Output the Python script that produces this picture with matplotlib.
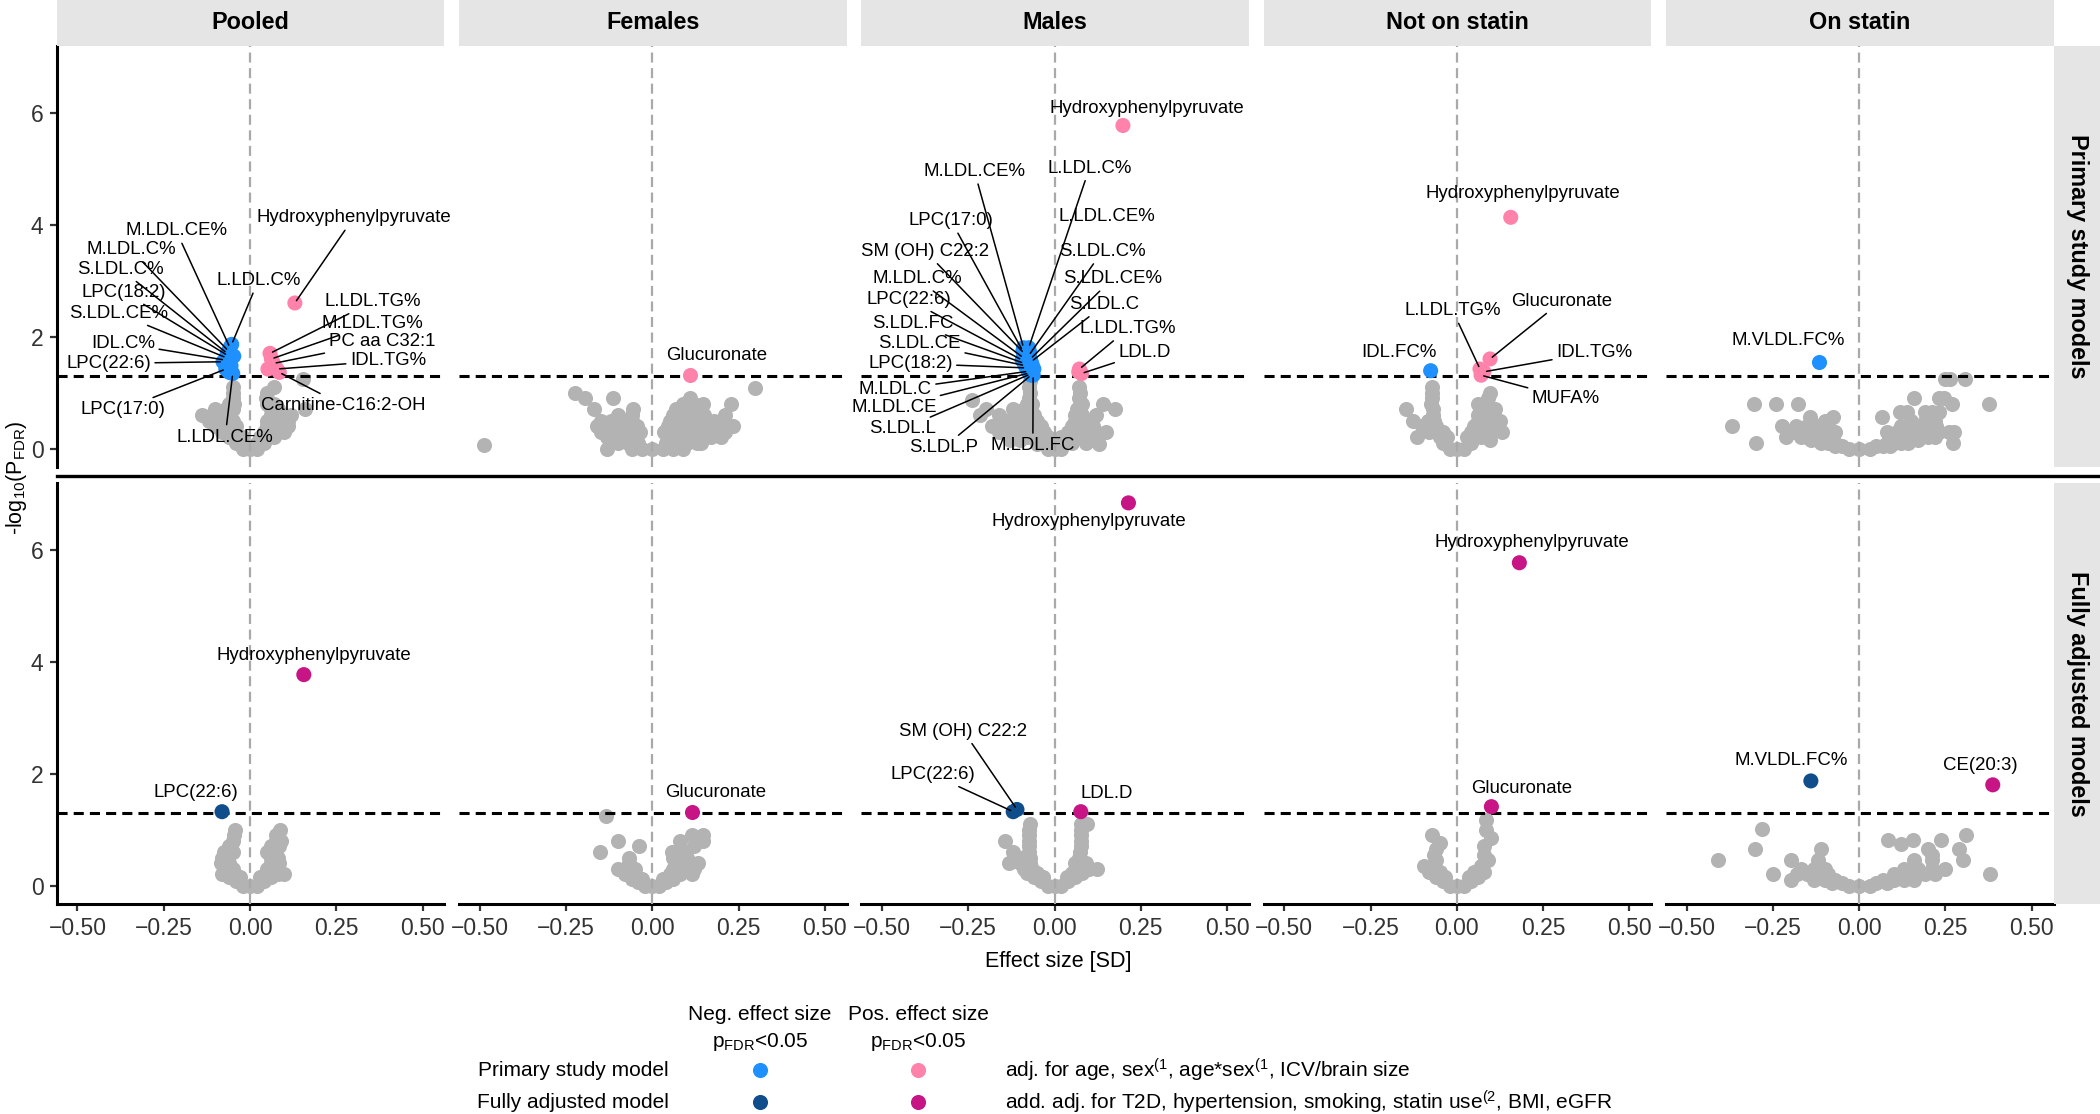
import matplotlib
matplotlib.use("Agg")
import matplotlib.pyplot as plt
from matplotlib.lines import Line2D
import numpy as np

plt.rcParams['font.family'] = ['Liberation Sans', 'DejaVu Sans']
plt.rcParams['mathtext.fontset'] = 'custom'
plt.rcParams['mathtext.rm'] = 'Liberation Sans'
plt.rcParams['mathtext.it'] = 'Liberation Sans:italic'
plt.rcParams['mathtext.bf'] = 'Liberation Sans:bold'
plt.rcParams['mathtext.default'] = 'regular'

## facets
groups = ["Pooled", "Females", "Males", "Not on statin", "On statin"]
models = ["Primary study models", "Fully adjusted models"]
x_ticks = [-0.5, -0.25, 0.0, 0.25, 0.5]
x_ticklabels = ["\u22120.50", "\u22120.25", "0.00", "0.25", "0.50"]
y_ticks = [0, 2, 4, 6]
p_threshold = -np.log10(0.05)

## non-significant metabolites:
## (-log10 pFDR, [effect sizes at that height]) plus the loose points
bg_pooled_primary = [
    (0.0, [-0.02, 0.0, 0.02]), (0.1, [-0.04, -0.02, 0.02, 0.04]),
    (0.2, [-0.06, -0.04, -0.02, 0.03, 0.05, 0.07]),
    (0.3, [-0.08, -0.06, -0.04, 0.04, 0.06, 0.08, 0.1]),
    (0.4, [-0.1, -0.08, -0.06, -0.04, 0.05, 0.07, 0.09, 0.11]),
    (0.5, [-0.12, -0.09, -0.07, -0.05, 0.05, 0.07, 0.09, 0.11]),
    (0.6, [-0.14, -0.11, -0.08, -0.06, 0.06, 0.08, 0.1, 0.12]),
    (0.7, [-0.1, -0.07, -0.05, 0.06, 0.08, 0.16]), (0.8, [-0.06, -0.045, 0.05, 0.07]),
    (0.9, [-0.05, 0.045]), (1.0, [-0.05, 0.05]), (1.1, [-0.048, 0.07]), (1.25, [0.155])]
bg_females_primary = [
    (0.0, [-0.13, -0.06, -0.03, 0.0, 0.03, 0.06, 0.09]),
    (0.07, [-0.489]), (0.1, [-0.1, -0.07, -0.04, 0.04, 0.07, 0.1, 0.13, 0.141]),
    (0.2, [-0.13, -0.1, -0.07, -0.05, 0.05, 0.08, 0.11, 0.14, 0.17, 0.2]),
    (0.3, [-0.15, -0.12, -0.09, -0.06, -0.035, 0.035, 0.06, 0.09, 0.12, 0.15, 0.18, 0.21]),
    (0.4, [-0.16, -0.13, -0.1, -0.07, -0.045, 0.045, 0.07, 0.1, 0.13, 0.16, 0.19, 0.22, 0.234]),
    (0.5, [-0.15, -0.12, -0.09, -0.06, 0.05, 0.08, 0.11, 0.14, 0.18]),
    (0.6, [-0.1, -0.06, 0.06, 0.09, 0.12, 0.15, 0.212]),
    (0.7, [-0.17, -0.056, 0.07, 0.1, 0.13]), (0.8, [0.09, 0.12, 0.147, 0.228]),
    (0.9, [-0.196, -0.114, 0.11]), (1.0, [-0.223]), (1.08, [0.297])]
bg_males_primary = [
    (0.0, [-0.02, 0.0, 0.02]), (0.08, [-0.05, 0.13]), (0.1, [-0.03, -0.01, 0.01, 0.03, 0.05, 0.09]),
    (0.15, [-0.13, -0.1]),
    (0.2, [-0.08, -0.06, -0.04, -0.02, 0.02, 0.04, 0.06, 0.08, 0.1]),
    (0.3, [-0.16, -0.13, -0.11, -0.09, -0.07, -0.05, -0.03, 0.04, 0.06, 0.08, 0.1, 0.12, 0.15]),
    (0.4, [-0.18, -0.15, -0.12, -0.1, -0.08, -0.06, -0.04, 0.05, 0.07, 0.09, 0.11]),
    (0.5, [-0.14, -0.11, -0.09, -0.07, -0.05, 0.06, 0.08, 0.1]),
    (0.6, [-0.217, -0.16, -0.1, -0.08, -0.06, 0.06, 0.08, 0.12]),
    (0.7, [-0.2, -0.12, -0.09, -0.07, 0.065, 0.174]), (0.8, [-0.08, -0.065, 0.08, 0.139]),
    (0.86, [-0.238]), (0.9, [-0.075, 0.07]), (1.0, [-0.07, 0.075]), (1.1, [-0.075, 0.072]),
    (1.2, [-0.07])]
bg_nostatin_primary = [
    (0.0, [-0.02, 0.0, 0.02]), (0.1, [-0.04, 0.04]), (0.15, [0.096]),
    (0.2, [-0.117, -0.05, -0.03, 0.03, 0.05, 0.07]),
    (0.3, [-0.08, -0.06, -0.04, 0.04, 0.06, 0.08, 0.1, 0.13]),
    (0.4, [-0.1, -0.08, -0.06, 0.05, 0.07, 0.09, 0.11]),
    (0.5, [-0.127, -0.085, -0.065, 0.06, 0.08, 0.1, 0.125]),
    (0.6, [-0.07, 0.06, 0.08]), (0.7, [-0.146, -0.07, 0.08, 0.11]),
    (0.8, [-0.075, 0.06]), (0.9, [-0.073, 0.09]), (1.0, [-0.073, 0.096]), (1.1, [-0.073])]
bg_statin_primary = [
    (0.0, [-0.03, 0.0, 0.03]), (0.05, [-0.07, -0.05, 0.05, 0.07, 0.09]),
    (0.1, [-0.3, -0.11, -0.09, -0.07, 0.08, 0.1, 0.12, 0.14, 0.273]),
    (0.15, [-0.14, -0.12, 0.11, 0.13, 0.15, 0.17]),
    (0.2, [-0.212, -0.17, -0.15, -0.13, -0.1, 0.12, 0.14, 0.16, 0.18, 0.2, 0.22]),
    (0.3, [-0.19, -0.16, -0.13, -0.1, -0.07, 0.08, 0.11, 0.14, 0.17, 0.2, 0.23, 0.26, 0.275]),
    (0.4, [-0.369, -0.224, -0.183, -0.15, -0.12, -0.09, 0.12, 0.15, 0.18, 0.21, 0.224]),
    (0.5, [-0.1, 0.15, 0.19, 0.22]), (0.57, [-0.142, -0.077, 0.066]),
    (0.65, [0.119, 0.138, 0.19, 0.21, 0.23]), (0.8, [-0.304, -0.242, -0.178, 0.27, 0.377]),
    (0.9, [0.16, 0.23, 0.246]), (1.24, [0.249, 0.264, 0.307])]
bg_pooled_full = [
    (0.0, [-0.02, 0.0, 0.02]), (0.08, [-0.04, 0.04]),
    (0.15, [-0.06, -0.03, 0.03, 0.06]), (0.2, [-0.08, 0.08, 0.098]),
    (0.3, [-0.07, -0.05, 0.05, 0.07]), (0.4, [-0.085, -0.06, 0.06, 0.085]),
    (0.5, [-0.08, -0.065, 0.06, 0.08]), (0.6, [-0.076, -0.05, 0.05, 0.07]),
    (0.7, [-0.06, 0.06, 0.085]), (0.8, [-0.05, 0.075, 0.09]), (0.9, [-0.045, 0.075]),
    (1.0, [-0.042, 0.086])]
bg_females_full = [
    (0.0, [-0.02, 0.0, 0.02]), (0.06, [-0.04, 0.04]),
    (0.12, [-0.06, -0.03, 0.03, 0.06]), (0.2, [-0.08, -0.05, 0.05, 0.08, 0.115]),
    (0.3, [-0.1, -0.07, -0.05, 0.06, 0.09, 0.12]), (0.4, [-0.068, 0.07, 0.1, 0.132]),
    (0.5, [-0.068, 0.06, 0.1]), (0.6, [-0.151, 0.057, 0.09]), (0.7, [-0.038, 0.12]),
    (0.8, [-0.098, 0.081, 0.148]), (0.9, [0.115, 0.148]), (1.25, [-0.134])]
bg_males_full = [
    (0.0, [-0.02, 0.0, 0.02]), (0.08, [-0.04, 0.04]),
    (0.15, [-0.06, -0.035, 0.035, 0.06]), (0.22, [-0.08, -0.05, 0.05, 0.08]),
    (0.3, [-0.09, -0.065, 0.065, 0.1, 0.122]), (0.4, [-0.132, -0.1, -0.07, 0.06, 0.09]),
    (0.5, [-0.1, -0.07, 0.07]), (0.6, [-0.12, -0.075, 0.075]), (0.7, [-0.075, 0.076]),
    (0.8, [-0.143, -0.074, 0.076]), (0.9, [-0.074, 0.076]), (1.0, [-0.074, 0.076]),
    (1.1, [-0.07, 0.076, 0.095])]
bg_nostatin_full = [
    (0.0, [-0.02, 0.0, 0.02]), (0.08, [-0.04, 0.04]),
    (0.15, [-0.06, -0.035, 0.035, 0.06]), (0.25, [-0.08, -0.05, 0.05, 0.08]),
    (0.35, [-0.096, -0.07, 0.07]), (0.45, [-0.06, 0.09]), (0.55, [-0.065, 0.08]),
    (0.65, [-0.06]), (0.7, [0.08]), (0.76, [-0.05]), (0.85, [0.1]), (0.91, [-0.072]),
    (1.0, [0.084]), (1.17, [0.084])]
bg_statin_full = [
    (0.0, [-0.03, 0.0, 0.03]), (0.05, [-0.08, -0.05, 0.05, 0.08]),
    (0.1, [-0.198, -0.13, -0.1, -0.07, 0.07, 0.1, 0.13, 0.16]),
    (0.2, [-0.249, -0.18, -0.15, -0.12, -0.09, 0.1, 0.13, 0.16, 0.19, 0.22, 0.38]),
    (0.3, [-0.17, -0.13, -0.1, 0.13, 0.17, 0.21, 0.25]),
    (0.45, [-0.41, -0.198, -0.12, 0.16, 0.21, 0.3]), (0.55, [0.21]),
    (0.65, [-0.302, -0.11, 0.2, 0.29]), (0.75, [0.12]), (0.82, [0.084, 0.155, 0.237]),
    (0.91, [0.31]), (1.01, [-0.283])]

## significant metabolites: (name, effect size, -log10 pFDR); "" = not labelled
sig_pooled_primary = [
    ("M.LDL.CE%", -0.058, 1.80), ("M.LDL.C%", -0.062, 1.74), ("S.LDL.C%", -0.066, 1.70),
    ("LPC(18:2)", -0.064, 1.66), ("S.LDL.CE%", -0.068, 1.62), ("IDL.C%", -0.072, 1.58),
    ("LPC(22:6)", -0.078, 1.55), ("LPC(17:0)", -0.07, 1.42), ("L.LDL.CE%", -0.05, 1.34),
    ("L.LDL.C%", -0.053, 1.86), ("", -0.047, 1.65), ("", -0.055, 1.48), ("", -0.06, 1.36),
    ("Hydroxyphenylpyruvate", 0.13, 2.60), ("L.LDL.TG%", 0.058, 1.70), ("M.LDL.TG%", 0.062, 1.60),
    ("PC aa C32:1", 0.068, 1.52), ("IDL.TG%", 0.078, 1.42), ("Carnitine-C16:2-OH", 0.085, 1.36),
    ("", 0.052, 1.42)]
sig_females_primary = [("Glucuronate", 0.108, 1.32)]
sig_males_primary = [
    ("M.LDL.CE%", -0.09, 1.80), ("L.LDL.C%", -0.075, 1.80), ("LPC(17:0)", -0.092, 1.74),
    ("L.LDL.CE%", -0.072, 1.72), ("SM (OH) C22:2", -0.088, 1.70), ("S.LDL.C%", -0.075, 1.66),
    ("M.LDL.C%", -0.09, 1.62), ("S.LDL.CE%", -0.07, 1.60), ("LPC(22:6)", -0.094, 1.58),
    ("S.LDL.C", -0.068, 1.55), ("S.LDL.FC", -0.088, 1.52), ("S.LDL.CE", -0.085, 1.48),
    ("LPC(18:2)", -0.082, 1.44), ("M.LDL.C", -0.076, 1.38), ("M.LDL.CE", -0.073, 1.35),
    ("S.LDL.L", -0.07, 1.33), ("S.LDL.P", -0.068, 1.31), ("M.LDL.FC", -0.062, 1.31),
    ("", -0.06, 1.42), ("", -0.065, 1.5), ("", -0.08, 1.65),
    ("Hydroxyphenylpyruvate", 0.198, 5.77), ("L.LDL.TG%", 0.072, 1.42), ("LDL.D", 0.078, 1.34),
    ("", 0.07, 1.37)]
sig_nostatin_primary = [
    ("Hydroxyphenylpyruvate", 0.156, 4.13), ("IDL.FC%", -0.076, 1.39), ("Glucuronate", 0.096, 1.60),
    ("L.LDL.TG%", 0.067, 1.42), ("IDL.TG%", 0.078, 1.37), ("MUFA%", 0.07, 1.31)]
sig_statin_primary = [("M.VLDL.FC%", -0.116, 1.54)]
sig_pooled_full = [("Hydroxyphenylpyruvate", 0.156, 3.77), ("LPC(22:6)", -0.081, 1.32)]
sig_females_full = [("Glucuronate", 0.115, 1.32)]
sig_males_full = [
    ("Hydroxyphenylpyruvate", 0.214, 6.84), ("SM (OH) C22:2", -0.109, 1.36),
    ("LPC(22:6)", -0.12, 1.32), ("LDL.D", 0.076, 1.32)]
sig_nostatin_full = [("Hydroxyphenylpyruvate", 0.181, 5.77), ("Glucuronate", 0.10, 1.41)]
sig_statin_full = [("M.VLDL.FC%", -0.14, 1.87), ("CE(20:3)", 0.387, 1.80)]

## where the repelled labels sit (data units of each panel)
lab_pooled_primary = {
    "M.LDL.CE%": (-0.214, 3.89), "M.LDL.C%": (-0.345, 3.55), "S.LDL.C%": (-0.374, 3.20),
    "LPC(18:2)": (-0.365, 2.79), "S.LDL.CE%": (-0.38, 2.41), "IDL.C%": (-0.368, 1.88),
    "LPC(22:6)": (-0.41, 1.52), "LPC(17:0)": (-0.368, 0.70), "L.LDL.CE%": (-0.072, 0.20),
    "L.LDL.C%": (0.024, 3.00), "Hydroxyphenylpyruvate": (0.30, 4.12), "L.LDL.TG%": (0.355, 2.62),
    "M.LDL.TG%": (0.354, 2.23), "PC aa C32:1": (0.382, 1.91), "IDL.TG%": (0.40, 1.57),
    "Carnitine-C16:2-OH": (0.27, 0.77)}
lab_females_primary = {"Glucuronate": (0.186, 1.66)}
lab_males_primary = {
    "M.LDL.CE%": (-0.232, 4.95), "L.LDL.C%": (0.101, 5.01), "LPC(17:0)": (-0.30, 4.07),
    "L.LDL.CE%": (0.152, 4.14), "SM (OH) C22:2": (-0.374, 3.52), "S.LDL.C%": (0.138, 3.52),
    "M.LDL.C%": (-0.399, 3.03), "S.LDL.CE%": (0.167, 3.03), "LPC(22:6)": (-0.423, 2.66),
    "S.LDL.C": (0.145, 2.57), "S.LDL.FC": (-0.41, 2.24), "S.LDL.CE": (-0.391, 1.88),
    "LPC(18:2)": (-0.418, 1.52), "M.LDL.C": (-0.462, 1.05), "M.LDL.CE": (-0.464, 0.74),
    "S.LDL.L": (-0.44, 0.35), "S.LDL.P": (-0.321, 0.02), "M.LDL.FC": (-0.063, 0.05),
    "Hydroxyphenylpyruvate": (0.266, 6.08), "L.LDL.TG%": (0.213, 2.14), "LDL.D": (0.261, 1.71)}
lab_nostatin_primary = {
    "Hydroxyphenylpyruvate": (0.192, 4.55), "IDL.FC%": (-0.167, 1.72), "Glucuronate": (0.303, 2.63),
    "L.LDL.TG%": (-0.012, 2.46), "IDL.TG%": (0.398, 1.72), "MUFA%": (0.316, 0.90)}
lab_statin_primary = {"M.VLDL.FC%": (-0.205, 1.93)}
lab_pooled_full = {"Hydroxyphenylpyruvate": (0.186, 4.12), "LPC(22:6)": (-0.156, 1.66)}
lab_females_full = {"Glucuronate": (0.185, 1.66)}
lab_males_full = {
    "Hydroxyphenylpyruvate": (0.099, 6.51), "SM (OH) C22:2": (-0.264, 2.76),
    "LPC(22:6)": (-0.352, 1.98), "LDL.D": (0.15, 1.65)}
lab_nostatin_full = {"Hydroxyphenylpyruvate": (0.216, 6.13), "Glucuronate": (0.188, 1.74)}
lab_statin_full = {"M.VLDL.FC%": (-0.198, 2.24), "CE(20:3)": (0.352, 2.15)}

background = [
    [bg_pooled_primary, bg_females_primary, bg_males_primary, bg_nostatin_primary, bg_statin_primary],
    [bg_pooled_full, bg_females_full, bg_males_full, bg_nostatin_full, bg_statin_full]]
significant = [
    [sig_pooled_primary, sig_females_primary, sig_males_primary, sig_nostatin_primary, sig_statin_primary],
    [sig_pooled_full, sig_females_full, sig_males_full, sig_nostatin_full, sig_statin_full]]
labels = [
    [lab_pooled_primary, lab_females_primary, lab_males_primary, lab_nostatin_primary, lab_statin_primary],
    [lab_pooled_full, lab_females_full, lab_males_full, lab_nostatin_full, lab_statin_full]]
## this one has no segment in the original
no_segment = {(0, 2, "L.LDL.CE%")}

## colours: (neg, pos) per model
colors = [("#1E90FF", "#FF82AB"), ("#104E8B", "#C71585")]
grey = "#B3B3B3"
strip_bg = "#E5E5E5"

W, H = 2100, 1114
fig = plt.figure(figsize=(W / 100, H / 100), dpi=100)

def fig_rect(x0, y0, x1, y1):
    ## pixel box (top-left origin) -> figure fraction
    return [x0 / W, 1 - y1 / H, (x1 - x0) / W, (y1 - y0) / H]

col_left = [56.7 + 402.3 * i for i in range(5)]
col_w = 387.6
row_y = [(46, 467), (483.3, 904)]
dot_size = 118

for r in range(2):
    for c in range(5):
        ax = fig.add_axes(fig_rect(col_left[c], row_y[r][0], col_left[c] + col_w, row_y[r][1]))
        ax.set_xlim(-0.56, 0.563)
        ax.set_ylim(-0.33, 7.19)
        ax.patch.set_alpha(0)
        for s in ["top", "right"]:
            ax.spines[s].set_visible(False)
        ax.spines["left"].set_visible(c == 0)
        ax.spines["bottom"].set_visible(r == 1)
        for s in ["left", "bottom"]:
            ax.spines[s].set_linewidth(2.2)
        ax.set_xticks(x_ticks)
        ax.set_yticks(y_ticks)
        ax.tick_params(axis="both", length=5, width=1.6, color="#333333",
                       labelsize=16.5, labelcolor="#333333", pad=4.5)
        if r == 1:
            ax.set_xticklabels(x_ticklabels)
        else:
            ax.tick_params(axis="x", bottom=False, labelbottom=False)
        if c == 0:
            ax.set_yticklabels([str(t) for t in y_ticks])
        else:
            ax.tick_params(axis="y", left=False, labelleft=False)

        bx = [x for y, xs in background[r][c] for x in xs]
        by = [y for y, xs in background[r][c] for x in xs]
        ax.scatter(bx, by, s=dot_size, color=grey, linewidths=0, zorder=2)
        ax.axvline(0, color="#A9A9A9", lw=1.6, ls=(0, (4.5, 2.5)), zorder=3)
        ax.axhline(p_threshold, color="black", lw=2.2, ls=(0, (3.3, 2.0)), zorder=3)

        sig = significant[r][c]
        sx = np.array([s[1] for s in sig])
        sy = np.array([s[2] for s in sig])
        cols = [colors[r][0] if v < 0 else colors[r][1] for v in sx]
        ax.scatter(sx, sy, s=dot_size, c=cols, linewidths=0, zorder=4)

        lab = labels[r][c]
        for name, x, y in sig:
            if not name:
                continue
            lx, ly = lab[name]
            p0 = ax.transData.transform((x, y))
            p1 = ax.transData.transform((lx, ly))
            far = np.hypot(*(p1 - p0)) > 50 and (r, c, name) not in no_segment
            ax.annotate(name, xy=(x, y), xytext=(lx, ly), textcoords="data",
                        ha="center", va="center", fontsize=13.4, color="black", zorder=5,
                        annotation_clip=False,
                        arrowprops=dict(arrowstyle="-", color="black", lw=1.1,
                                        shrinkA=1, shrinkB=2) if far else None)

## strips
for c in range(5):
    sa = fig.add_axes(fig_rect(col_left[c], 0, col_left[c] + col_w, 45.7))
    sa.set_facecolor(strip_bg)
    sa.set_xticks([]); sa.set_yticks([])
    for s in sa.spines.values():
        s.set_visible(False)
    sa.text(0.5, 0.5, groups[c], ha="center", va="center", fontsize=16.8, fontweight="bold",
            transform=sa.transAxes)
for r in range(2):
    sa = fig.add_axes(fig_rect(2054, row_y[r][0], W, row_y[r][1]))
    sa.set_facecolor(strip_bg)
    sa.set_xticks([]); sa.set_yticks([])
    for s in sa.spines.values():
        s.set_visible(False)
    sa.text(0.5, 0.5, models[r], ha="center", va="center", fontsize=16.8, fontweight="bold",
            rotation=-90, transform=sa.transAxes)

## overlay in pixel units for the rule, axis titles and the legend
ov = fig.add_axes([0, 0, 1, 1])
ov.set_xlim(0, W)
ov.set_ylim(H, 0)
ov.axis("off")
ov.patch.set_alpha(0)
ov.add_line(Line2D([56.7, W], [475.5, 475.5], color="black", lw=2.4))

ov.text(17, 478, r"-log$_{10}$(P$_{FDR}$)", rotation=90, ha="center", va="center", fontsize=15.5)
ov.text(1058, 961, "Effect size [SD]", ha="center", va="center", fontsize=15.5)

leg_cols_x = [760, 918]
leg_rows_y = [1070, 1102]
leg_headers = ["Neg. effect size", "Pos. effect size"]
leg_models = ["Primary study model", "Fully adjusted model"]
leg_desc = [r"adj. for age, sex$^{(1}$, age*sex$^{(1}$, ICV/brain size",
            r"add. adj. for T2D, hypertension, smoking, statin use$^{(2}$, BMI, eGFR"]
for j in range(2):
    ov.text(leg_cols_x[j], 1015, leg_headers[j], ha="center", va="center", fontsize=15)
    ov.text(leg_cols_x[j], 1042, r"p$_{FDR}$<0.05", ha="center", va="center", fontsize=15)
for i in range(2):
    ov.text(669, leg_rows_y[i], leg_models[i], ha="right", va="center", fontsize=15)
    ov.text(1005, leg_rows_y[i], leg_desc[i], ha="left", va="center", fontsize=15)
    for j in range(2):
        ov.scatter([leg_cols_x[j]], [leg_rows_y[i]], s=dot_size, color=colors[i][j], linewidths=0)

fig.savefig("out.png", dpi=100)
